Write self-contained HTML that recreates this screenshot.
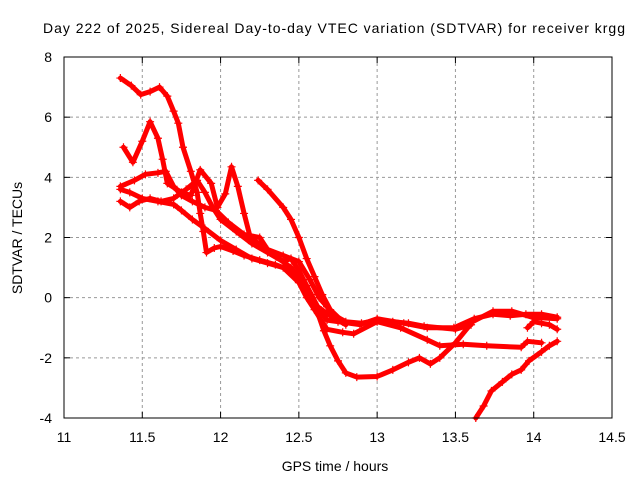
<!DOCTYPE html>
<html><head><meta charset="utf-8"><style>
html,body{margin:0;padding:0;background:#fff;}
svg{display:block;font-family:"Liberation Sans",sans-serif;}
</style></head><body>
<svg id="chart" width="640" height="480" viewBox="0 0 640 480">
<text x="334" y="33" font-size="14" text-anchor="middle" textLength="582">Day 222 of 2025, Sidereal Day-to-day VTEC variation (SDTVAR) for receiver krgg</text>
<g id="grid"></g>
<g id="series"></g>
<rect x="64" y="57" width="548" height="361" fill="none" stroke="#000" stroke-width="1"/>
<g id="ticks"></g>
<text x="335" y="471" font-size="14" text-anchor="middle">GPS time / hours</text>
<text transform="translate(22,238) rotate(-90)" font-size="14" text-anchor="middle">SDTVAR / TECUs</text>
</svg>
<script>
const xTicks = [11, 11.5, 12, 12.5, 13, 13.5, 14, 14.5];
const xTickLabels = ["11", "11.5", "12", "12.5", "13", "13.5", "14", "14.5"];
const yTicks = [-4, -2, 0, 2, 4, 6, 8];
const yTickLabels = ["-4", "-2", "0", "2", "4", "6", "8"];
const track1 = [[11.36,7.3],[11.43,7.05],[11.49,6.75],[11.55,6.85],[11.61,7.0],[11.66,6.7],[11.7,6.2],[11.73,5.8],[11.76,5.0],[11.81,4.2],[11.85,3.5],[11.87,2.8],[11.89,2.2],[11.91,1.5],[11.96,1.65],[12.0,1.7],[12.08,1.55],[12.15,1.4],[12.25,1.25],[12.35,1.1],[12.45,0.9],[12.52,0.6],[12.58,0.1],[12.62,-0.5],[12.66,-1.1],[12.7,-1.6],[12.75,-2.1],[12.8,-2.5],[12.87,-2.64],[13.0,-2.62],[13.1,-2.4],[13.2,-2.15],[13.27,-2.0],[13.34,-2.2],[13.4,-2.0],[13.5,-1.5],[13.61,-0.8],[13.74,-0.45],[13.86,-0.45],[13.99,-0.65],[14.15,-0.7]];
const track2 = [[11.38,5.0],[11.44,4.5],[11.5,5.2],[11.55,5.85],[11.6,5.3],[11.63,4.6],[11.66,3.8],[11.75,3.5],[11.81,3.4],[11.87,4.25],[11.94,3.8],[11.98,3.0],[12.03,3.45],[12.07,4.35],[12.11,3.7],[12.15,2.8],[12.19,2.0],[12.27,1.7],[12.36,1.35],[12.45,1.0],[12.55,0.3],[12.62,-0.3],[12.68,-0.75],[12.75,-0.8],[12.89,-0.9],[13.0,-0.7],[13.17,-0.85],[13.32,-1.0],[13.49,-1.0],[13.62,-0.7],[13.74,-0.55],[13.85,-0.6],[13.95,-0.55],[14.05,-0.55],[14.15,-0.65]];
const track3 = [[11.36,3.7],[11.45,3.9],[11.52,4.1],[11.6,4.15],[11.65,4.2],[11.7,3.7],[11.75,3.4],[11.82,3.2],[11.9,3.0],[11.97,2.9],[12.05,2.5],[12.15,2.1],[12.25,2.0],[12.3,1.6],[12.4,1.4],[12.5,1.2],[12.57,0.6],[12.63,0.0],[12.68,-0.3],[12.73,-0.6],[12.8,-0.8],[12.9,-0.85],[13.0,-0.75],[13.1,-0.8],[13.2,-0.85],[13.3,-0.95],[13.5,-1.05],[13.6,-0.9]];
const track4 = [[11.36,3.6],[11.42,3.5],[11.5,3.3],[11.6,3.2],[11.7,3.1],[11.75,2.9],[11.82,2.6],[11.9,2.3],[12.0,1.9],[12.1,1.6],[12.2,1.3],[12.3,1.15],[12.4,1.0],[12.5,0.5],[12.55,0.0],[12.6,-0.4],[12.68,-1.05],[12.78,-1.15],[12.85,-1.2],[13.0,-0.8],[13.15,-1.0],[13.32,-1.4],[13.4,-1.6],[13.55,-1.55],[13.7,-1.6],[13.92,-1.65],[13.96,-1.45],[14.05,-1.5]];
const track5 = [[11.36,3.2],[11.42,3.0],[11.48,3.2],[11.55,3.3],[11.62,3.2],[11.7,3.3],[11.78,3.6],[11.85,3.9],[11.9,3.5],[11.95,3.0],[12.0,2.6],[12.1,2.2],[12.2,1.8],[12.3,1.5],[12.4,1.2],[12.45,1.3],[12.5,0.9],[12.55,0.4],[12.62,-0.3],[12.7,-0.6],[12.8,-0.9]];
const track6 = [[12.24,3.9],[12.3,3.6],[12.4,3.0],[12.45,2.6],[12.5,2.0],[12.55,1.3],[12.6,0.7],[12.65,0.1],[12.7,-0.4],[12.78,-0.8]];
const track7 = [[13.63,-4.0],[13.68,-3.6],[13.73,-3.1],[13.8,-2.8],[13.86,-2.55],[13.92,-2.4],[13.97,-2.1],[14.05,-1.8],[14.1,-1.6],[14.15,-1.45]];
const track8 = [[13.96,-1.0],[14.0,-0.8],[14.05,-0.85],[14.1,-0.9],[14.15,-1.05]];
const tracks = [track1, track2, track3, track4, track5, track6, track7, track8];

const NS = "http://www.w3.org/2000/svg";
const L = 64, R = 612, T = 57, B = 418;
function xs(v){ return L + (v - 11) / 3.5 * (R - L); }
function ys(v){ return B - (v + 4) / 12 * (B - T); }
function mk(tag, attrs, parent){ const e = document.createElementNS(NS, tag); for (const k in attrs) e.setAttribute(k, attrs[k]); parent.appendChild(e); return e; }

const grid = document.getElementById('grid');
const ticks = document.getElementById('ticks');
xTicks.forEach((t, i) => {
  const x = xs(t);
  if (i > 0 && i < xTicks.length - 1) {
    const g = mk('line', {x1:x, x2:x, y1:T, y2:B, stroke:'#999', 'stroke-dasharray':'3,3'}, grid);
    
    
  }
  mk('line', {x1:x, x2:x, y1:B, y2:B-6, stroke:'#000'}, ticks);
  mk('line', {x1:x, x2:x, y1:T, y2:T+6, stroke:'#000'}, ticks);
  const lb = mk('text', {x:x, y:B+24, 'font-size':14, 'text-anchor':'middle'}, ticks);
  lb.textContent = xTickLabels[i];
  
  
});
yTicks.forEach((t, i) => {
  const y = ys(t);
  if (i > 0 && i < yTicks.length - 1) {
    const g = mk('line', {x1:L, x2:R, y1:y, y2:y, stroke:'#999', 'stroke-dasharray':'3,3'}, grid);
    
    
  }
  mk('line', {x1:L, x2:L+6, y1:y, y2:y, stroke:'#000'}, ticks);
  mk('line', {x1:R, x2:R-6, y1:y, y2:y, stroke:'#000'}, ticks);
  const lb = mk('text', {x:L-12, y:y+5, 'font-size':14, 'text-anchor':'end'}, ticks);
  lb.textContent = yTickLabels[i];
  
  
});

const sg = document.getElementById('series');
tracks.forEach((tr, ti) => {
  const d = tr.map((p, j) => (j ? 'L' : 'M') + xs(p[0]).toFixed(1) + ',' + ys(p[1]).toFixed(1)).join(' ');
  const path = mk('path', {d:d, fill:'none', stroke:'#f00', 'stroke-width':5, 'stroke-linejoin':'round', 'stroke-linecap':'round'}, sg);
  
  
  tr.forEach(p => {
    const x = xs(p[0]), y = ys(p[1]);
    const m = mk('path', {d:`M${x-4},${y}H${x+4}M${x},${y-4}V${y+4}`, stroke:'#f00', 'stroke-width':1.2}, sg);
    
    
  });
});
</script>
</body></html>
